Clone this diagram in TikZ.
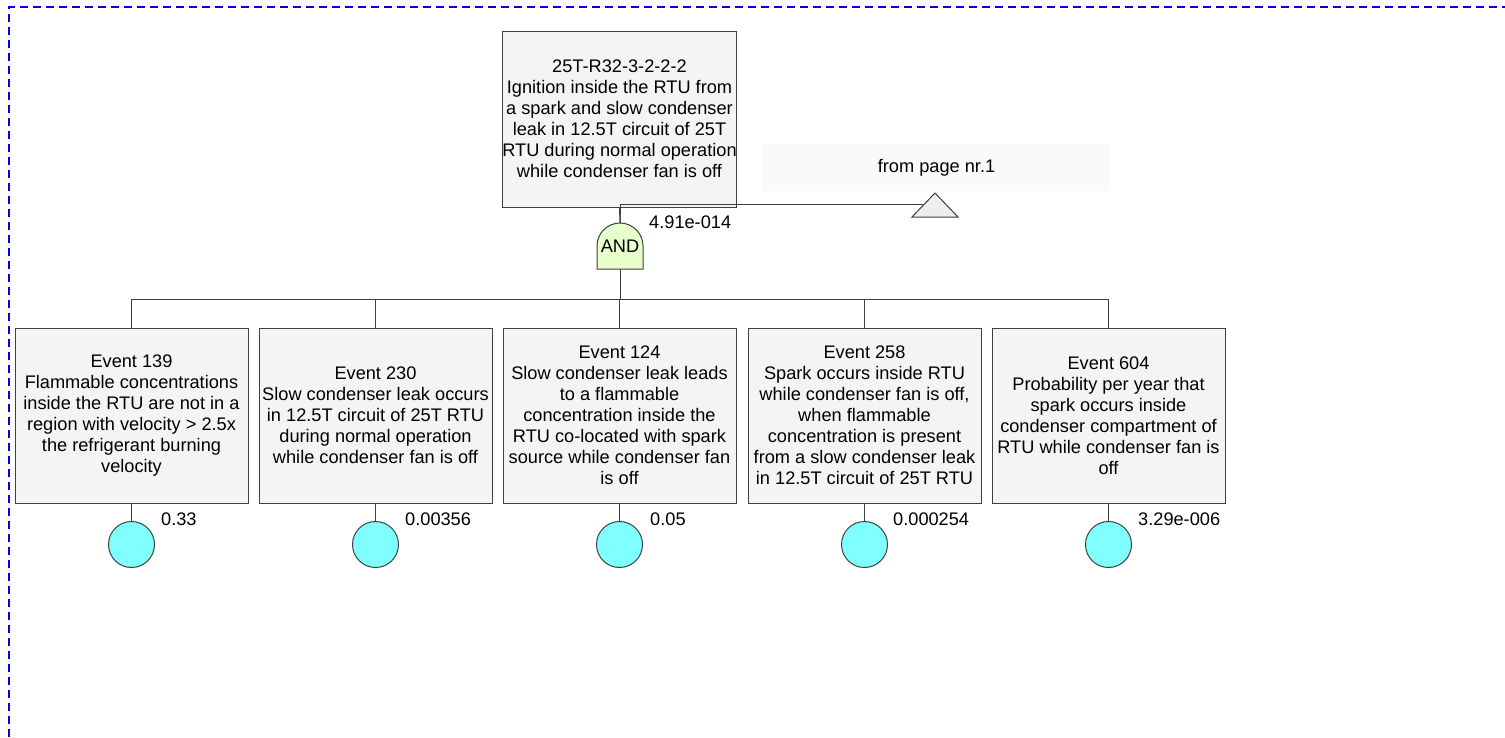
\documentclass[tikz,border=0pt]{standalone}
\usepackage{fontspec}
\setmainfont{Liberation Sans}
\definecolor{boxfill}{HTML}{F4F4F4}
\definecolor{linec}{HTML}{404040}
\definecolor{circfill}{HTML}{80FFFF}
\definecolor{gatefill}{HTML}{E6FFCC}
\definecolor{trifill}{HTML}{EEEEEE}
\definecolor{pagefill}{HTML}{FAFAFA}
\definecolor{borderblue}{HTML}{0000E0}
\begin{document}
\begin{tikzpicture}[x=1pt,y=-1pt,
  txt/.style={font=\fontsize{18.2}{21}\selectfont, text=black},
  evbox/.style={txt, draw=linec, line width=1pt, fill=boxfill, minimum width=233pt, minimum height=175pt, inner sep=0pt, align=center},
  basic/.style={draw=linec, line width=1pt, fill=circfill, circle, minimum size=46pt, inner sep=0pt},
  prob/.style={txt, anchor=west, inner sep=0pt},
  conn/.style={draw=linec, line width=1pt}
]
\useasboundingbox (0,0) rectangle (1505,737);
% page border
\draw[borderblue, line width=1.3pt, dash pattern=on 8pt off 5pt] (9,737) -- (9,7) -- (1505,7);

% top event
\node[evbox, minimum height=176pt] (top) at (619.5,119) {25T-R32-3-2-2-2\\Ignition inside the RTU from\\a spark and slow condenser\\leak in 12.5T circuit of 25T\\RTU during normal operation\\while condenser fan is off};

% transfer label and triangle
\node[txt, fill=pagefill, minimum width=349pt, minimum height=47pt, inner sep=0pt] (frompage) at (936.5,167.5) {from page nr.1};
\draw[draw=linec, line width=1pt, fill=trifill] (912,217) -- (935,193) -- (958,217) -- cycle;
\coordinate (trin) at (923.5,204.5);

% AND gate
\draw[draw=linec, line width=1pt, fill=gatefill] (597,269) -- (597,246) .. controls (597,233.3) and (607.3,223) .. (620,223) .. controls (632.7,223) and (643,233.3) .. (643,246) -- (643,269) -- cycle;
\node[txt, minimum width=46pt, minimum height=46pt, inner sep=0pt] (gate) at (620,246) {AND};
\node[prob] (pg) at (649,222) {4.91e-014};

\draw[conn] (gate.north) -- (top.south);
\draw[conn] (gate.north) |- (trin);

% events
\node[evbox] (e1) at (131.5,415.5) {Event 139\\Flammable concentrations\\inside the RTU are not in a\\region with velocity > 2.5x\\the refrigerant burning\\velocity};
\node[evbox] (e2) at (375.5,415.5) {Event 230\\Slow condenser leak occurs\\in 12.5T circuit of 25T RTU\\during normal operation\\while condenser fan is off};
\node[evbox] (e3) at (619.5,415.5) {Event 124\\Slow condenser leak leads\\to a flammable\\concentration inside the\\RTU co-located with spark\\source while condenser fan\\is off};
\node[evbox] (e4) at (864.5,415.5) {Event 258\\Spark occurs inside RTU\\while condenser fan is off,\\when flammable\\concentration is present\\from a slow condenser leak\\in 12.5T circuit of 25T RTU};
\node[evbox] (e5) at (1108.5,415.5) {Event 604\\Probability per year that\\spark occurs inside\\condenser compartment of\\RTU while condenser fan is\\off};

% bus
\coordinate (bus) at (620,299);
\draw[conn] (gate.south) -- (bus);
\foreach \i in {1,...,5} { \draw[conn] (bus) -| (e\i.north); }

% basic events
\node[basic] (c1) at (131.5,544.5) {};
\node[basic] (c2) at (375.5,544.5) {};
\node[basic] (c3) at (619.5,544.5) {};
\node[basic] (c4) at (864.5,544.5) {};
\node[basic] (c5) at (1108.5,544.5) {};
\foreach \i in {1,...,5} { \draw[conn] (e\i.south) -- (c\i.north); }

\node[prob] (p1) at (161,519) {0.33};
\node[prob] (p2) at (405,519) {0.00356};
\node[prob] (p3) at (650,519) {0.05};
\node[prob] (p4) at (893,519) {0.000254};
\node[prob] (p5) at (1138,519) {3.29e-006};
\end{tikzpicture}
\end{document}
